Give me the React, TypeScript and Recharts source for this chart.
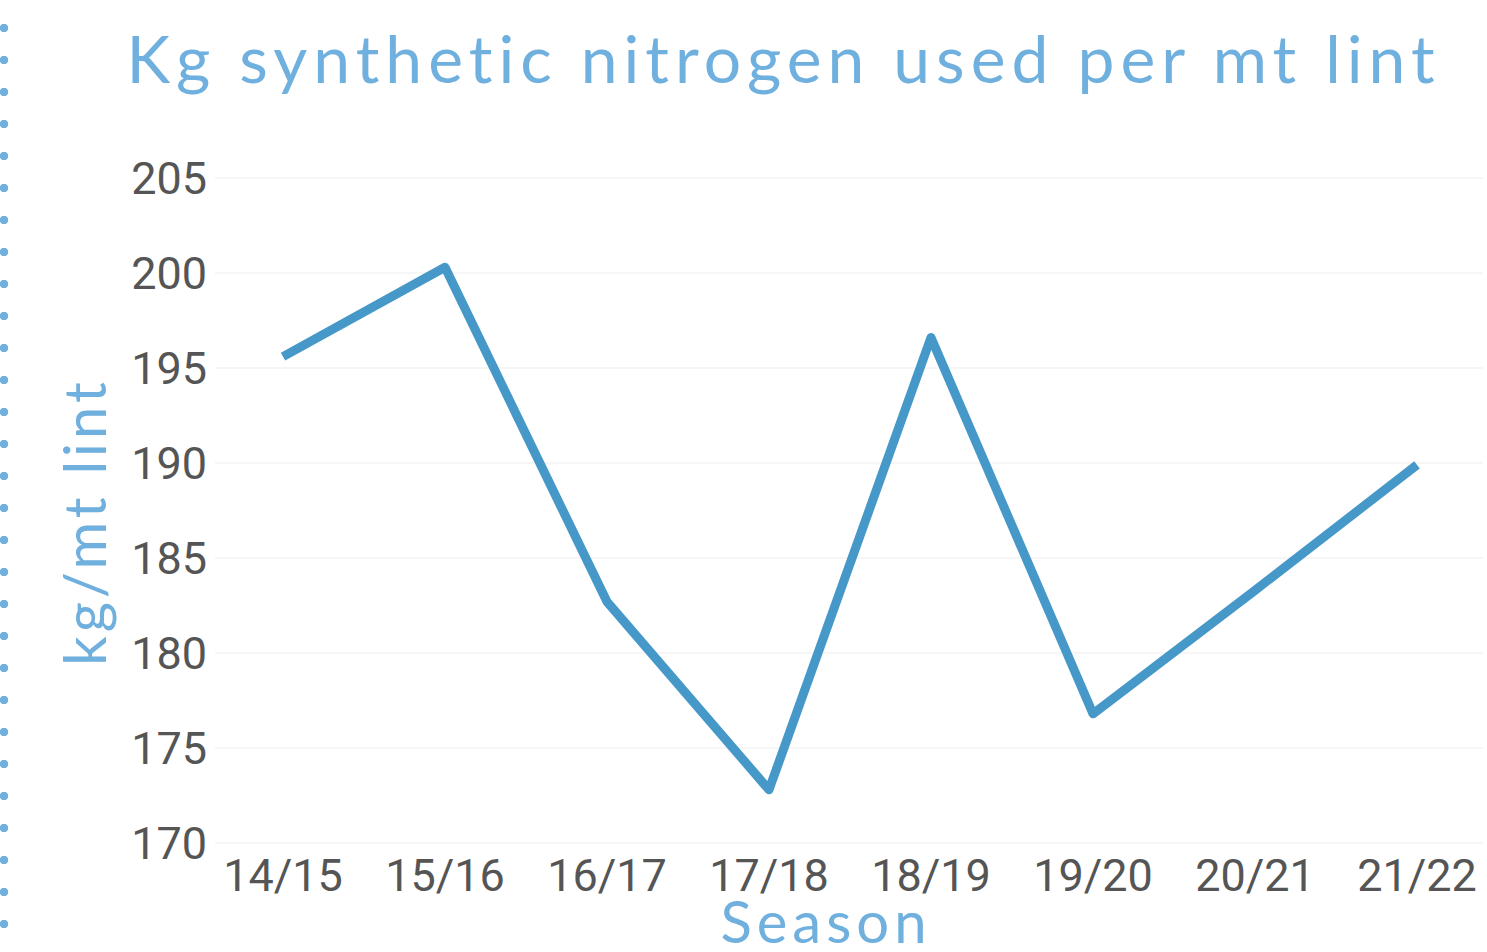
import React from 'react';
import { LineChart, Line, XAxis, YAxis, CartesianGrid } from 'recharts';

const seasons = ['14/15', '15/16', '16/17', '17/18', '18/19', '19/20', '20/21', '21/22'];
const nitrogenKg = [195.6, 200.3, 182.7, 172.8, 196.6, 176.8, 183.3, 189.9];
const yTicks = [170, 175, 180, 185, 190, 195, 200, 205];

const data = seasons.map((season, i) => ({ season, value: nitrogenKg[i] }));

const blue = '#6fb0de';
const lineBlue = '#4598c8';
const headFont = '"Lato", "Open Sans", sans-serif';

export default function App() {
  return (
    <div
      style={{
        position: 'absolute',
        left: 0,
        top: 0,
        width: 1487,
        height: 952,
        background: '#fff',
        overflow: 'hidden',
      }}
    >
      {/* dotted left border */}
      <div
        style={{
          position: 'absolute',
          left: -1,
          top: 12,
          width: 10,
          height: 940,
          backgroundImage: `radial-gradient(circle, ${blue} 4px, transparent 4.5px)`,
          backgroundSize: '10px 32px',
        }}
      />
      <div
        style={{
          position: 'absolute',
          left: 0,
          width: 1487,
          top: 18,
          paddingLeft: 80,
          textAlign: 'center',
          fontFamily: headFont,
          fontSize: 66,
          letterSpacing: 6,
          color: blue,
          lineHeight: '80px',
          boxSizing: 'border-box',
          whiteSpace: 'nowrap',
        }}
      >
        Kg synthetic nitrogen used per mt lint
      </div>
      <div
        style={{
          position: 'absolute',
          left: 83,
          top: 522,
          transform: 'translate(-50%, -50%) rotate(-90deg)',
          fontFamily: headFont,
          fontSize: 58,
          letterSpacing: 4,
          color: blue,
          whiteSpace: 'nowrap',
        }}
      >
        kg/mt lint
      </div>
      <div
        style={{
          position: 'absolute',
          left: 826,
          top: 921,
          transform: 'translate(-50%, -50%)',
          fontFamily: headFont,
          fontSize: 58,
          letterSpacing: 5,
          color: blue,
          whiteSpace: 'nowrap',
          lineHeight: '46px',
        }}
      >
        Season
      </div>
      <LineChart
        width={1487}
        height={952}
        data={data}
        margin={{ top: 178, right: 4, bottom: 49, left: 125 }}
        style={{ position: 'absolute', left: 0, top: 0 }}
      >
        <CartesianGrid vertical={false} stroke="#f6f6f6" strokeWidth={2} />
        <XAxis
          dataKey="season"
          axisLine={false}
          tickLine={false}
          height={60}
          tickMargin={10}
          padding={{ left: 68, right: 66 }}
          tick={{ fill: '#555555', fontSize: 45, fontFamily: 'Roboto' }}
          interval={0}
        />
        <YAxis
          domain={[170, 205]}
          ticks={yTicks}
          axisLine={false}
          tickLine={false}
          width={90}
          tick={{ fill: '#555555', fontSize: 45, fontFamily: 'Roboto' }}
        />
        <Line
          type="linear"
          dataKey="value"
          stroke={lineBlue}
          strokeWidth={9}
          strokeLinejoin="round"
          dot={false}
          isAnimationActive={false}
        />
      </LineChart>
    </div>
  );
}
